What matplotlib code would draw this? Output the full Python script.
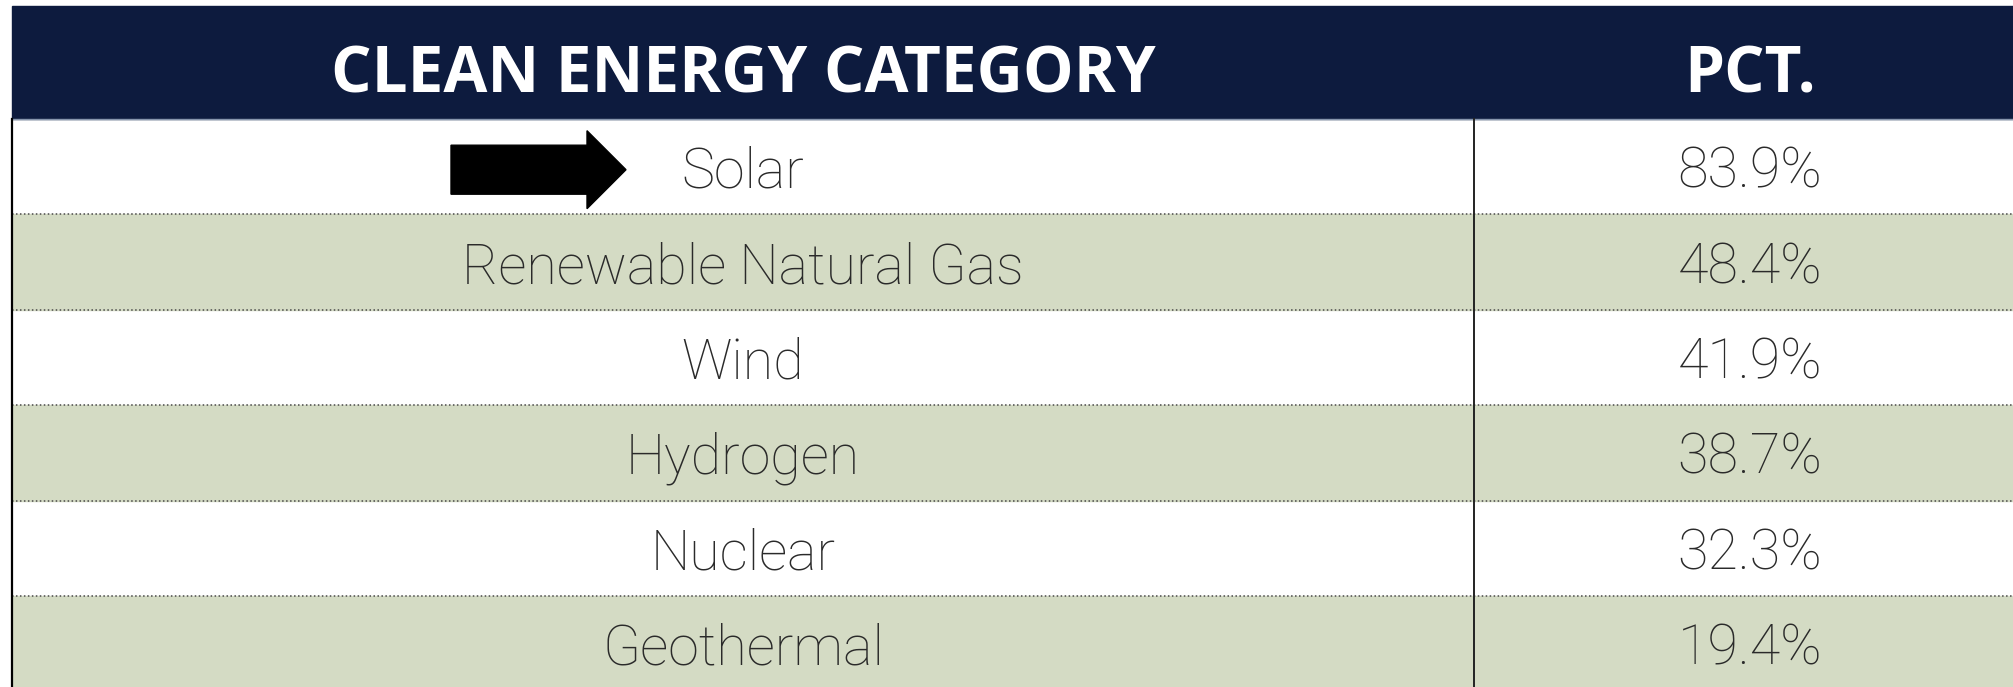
import matplotlib
matplotlib.use("Agg")
import matplotlib.pyplot as plt
from matplotlib.patches import Rectangle, FancyArrow

# table content
categories = ["Solar", "Renewable Natural Gas", "Wind", "Hydrogen", "Nuclear", "Geothermal"]
pcts = [83.9, 48.4, 41.9, 38.7, 32.3, 19.4]
headers = ["CLEAN ENERGY CATEGORY", "PCT."]
arrow_row = 0

# layout in pixel units
W, H = 2013, 687
left, divider = 12, 1474
head_top, head_bot = 6, 119
row_h = 95.4
navy = "#0d1b3e"
green = "#d4dbc4"
text_col = "#2a2a2a"
body_font = ["Roboto", "Lato", "DejaVu Sans"]

fig = plt.figure(figsize=(W / 100, H / 100), dpi=100)
ax = fig.add_axes([0, 0, 1, 1])
ax.set_xlim(0, W)
ax.set_ylim(H, 0)
ax.axis("off")

# header band
ax.add_patch(Rectangle((left, head_top), W - left, head_bot - head_top, color=navy, zorder=1))
ax.plot([left, W], [head_bot, head_bot], color="#8796ad", lw=1, zorder=2)

col_x = [(left + divider) / 2, 1750]
r = fig.canvas.get_renderer()

def fit(t, target):
    # shrink/grow font so the text gets the measured width
    w = t.get_window_extent(r).width
    t.set_fontsize(t.get_fontsize() * target / w)

h1 = ax.text(col_x[0], 0, headers[0], color="white", ha="center",
             va="baseline", fontsize=40, fontweight="bold", family=["Open Sans", "DejaVu Sans"], zorder=3)
fit(h1, 824)
h1.set_y((head_top + head_bot) / 2 + 7 + h1.get_fontsize() * 0.714 * 100 / 72 / 2)
h2 = ax.text(col_x[1], h1.get_position()[1], headers[1], color="white", ha="center",
             va="baseline", fontsize=h1.get_fontsize(), fontweight="bold",
             family=["Open Sans", "DejaVu Sans"], zorder=3)

# body rows
body_size = None
for i, (cat, p) in enumerate(zip(categories, pcts)):
    top = head_bot + i * row_h
    if i % 2 == 1:
        ax.add_patch(Rectangle((left, top), W - left, row_h, color=green, zorder=0))
    if i > 0:
        ax.plot([left, W], [top, top], color="#4a4a4a", lw=1.1, ls=(0, (1, 1.6)), zorder=2)
    base = top + row_h / 2 + 21
    t = ax.text(col_x[0], base, cat, color=text_col, ha="center", va="baseline",
                fontsize=34, fontweight="light", family=body_font, zorder=3)
    if cat == "Renewable Natural Gas":
        fit(t, 562)
        body_size = t.get_fontsize()
    ax.text(col_x[1], base, "{0:.1f}%".format(p), color=text_col, ha="center", va="baseline",
            fontsize=34, fontweight="light", family=body_font, zorder=3)

for t in ax.texts[2:]:
    t.set_fontsize(body_size)

# vertical rules
ax.plot([left, left], [head_bot, H], color="black", lw=1.6, zorder=2)
ax.plot([divider, divider], [head_bot, H], color="#222222", lw=1.4, zorder=2)

# black block arrow pointing at the first row
ay = head_bot + arrow_row * row_h + row_h / 2 + 3
ax.add_patch(FancyArrow(451, ay, 175, 0, width=49, head_width=78, head_length=39,
                        length_includes_head=True, color="black", zorder=3))

fig.savefig("out.png", dpi=100)
